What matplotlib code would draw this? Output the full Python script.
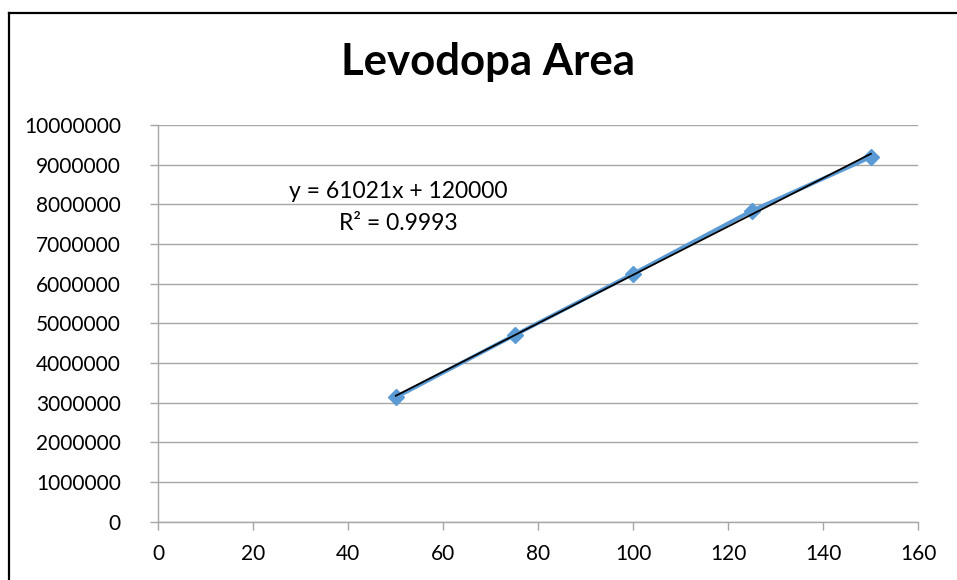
import matplotlib
matplotlib.use("Agg")
import matplotlib.pyplot as plt
from matplotlib.lines import Line2D
import numpy as np

plt.rcParams['font.family'] = ['Lato', 'DejaVu Sans']

title = "Levodopa Area"
conc = [50, 75, 100, 125, 150]
area = [3130000, 4700000, 6250000, 7840000, 9190000]
slope = 61021
intercept = 120000
r2 = 0.9993
x_ticks = [0, 20, 40, 60, 80, 100, 120, 140, 160]
y_ticks = [0, 1000000, 2000000, 3000000, 4000000, 5000000, 6000000, 7000000, 8000000, 9000000, 10000000]

fig = plt.figure(figsize=(9.57, 5.8), dpi=100)
fig.patch.set_facecolor('white')
ax = fig.add_axes([158.3/957, 1-521.5/580, (918.3-158.3)/957, (521.5-125)/580])

grid_c = '#A6A6A6'
ax.set_xlim(0, 160)
ax.set_ylim(0, 10000000)
ax.set_xticks(x_ticks)
ax.set_yticks(y_ticks)
ax.set_xticklabels([str(v) for v in x_ticks])
ax.set_yticklabels([str(v) for v in y_ticks])
ax.yaxis.grid(True, color=grid_c, linewidth=1.0)
ax.set_axisbelow(True)
for s in ['top', 'right']:
    ax.spines[s].set_visible(False)
for s in ['left', 'bottom']:
    ax.spines[s].set_color(grid_c)
    ax.spines[s].set_linewidth(1.0)
ax.tick_params(axis='both', direction='out', length=6, width=1.0, color=grid_c,
               labelsize=15, labelcolor='black')
ax.tick_params(axis='y', pad=21)
ax.tick_params(axis='x', pad=10)

ax.plot(conc, area, color='#5B9BD5', linewidth=2.8, marker='D', markersize=8,
        markerfacecolor='#5B9BD5', markeredgecolor='#5B9BD5', zorder=3)
xt = np.array([conc[0], conc[-1]])
ax.plot(xt, slope*xt + intercept, color='black', linewidth=1.3, zorder=4)

ax.text(398/957, 1-191/580, f"y = {slope}x + {intercept}", transform=fig.transFigure,
        ha='center', va='center', fontsize=16.5)
ax.text(398/957, 1-224/580, f"R² = {r2}", transform=fig.transFigure,
        ha='center', va='center', fontsize=16.5)

fig.text(488/957, 1-62/580, title, ha='center', va='center', fontsize=31.5, fontweight='bold')

fig.add_artist(Line2D([8.5/957, 8.5/957], [0, 1-13/580], transform=fig.transFigure,
                      color='black', linewidth=1.6))
fig.add_artist(Line2D([8.5/957, 1.0], [1-13/580, 1-13/580], transform=fig.transFigure,
                      color='black', linewidth=1.6))

fig.savefig('out.png', dpi=100)
